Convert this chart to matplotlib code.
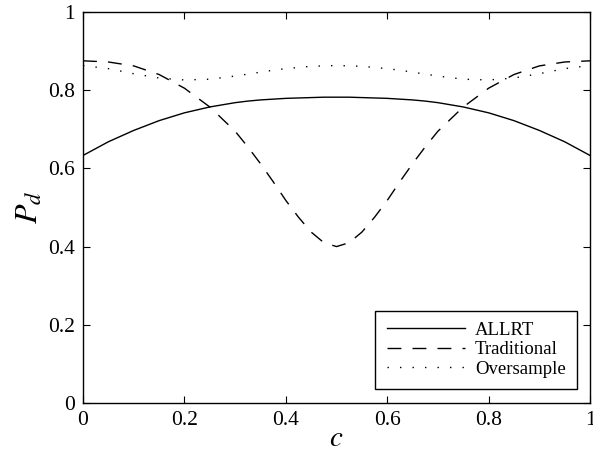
import numpy as np
import matplotlib
matplotlib.use('Agg')
import matplotlib.pyplot as plt

plt.rcParams['font.family'] = ['Liberation Serif', 'DejaVu Serif']
plt.rcParams['mathtext.fontset'] = 'stix'

# 数据（从图中读取，关于 c=0.5 对称）
c = [0.0, 0.05, 0.1, 0.15, 0.2, 0.25, 0.3, 0.325, 0.35, 0.375, 0.4, 0.425, 0.45, 0.475, 0.5,
     0.525, 0.55, 0.575, 0.6, 0.625, 0.65, 0.675, 0.7, 0.75, 0.8, 0.85, 0.9, 0.95, 1.0]
allrt = [0.633, 0.668, 0.697, 0.722, 0.742, 0.757, 0.768, 0.772, 0.775, 0.777, 0.779, 0.780, 0.781, 0.782, 0.782,
         0.782, 0.781, 0.780, 0.779, 0.777, 0.775, 0.772, 0.768, 0.757, 0.742, 0.722, 0.697, 0.668, 0.633]
traditional = [0.875, 0.872, 0.862, 0.840, 0.805, 0.757, 0.695, 0.655, 0.612, 0.566, 0.518, 0.475, 0.437, 0.410, 0.400,
               0.410, 0.437, 0.475, 0.518, 0.566, 0.612, 0.655, 0.695, 0.757, 0.805, 0.840, 0.862, 0.872, 0.875]
oversample = [0.863, 0.855, 0.842, 0.831, 0.826, 0.828, 0.836, 0.841, 0.846, 0.851, 0.855, 0.858, 0.861, 0.862, 0.863,
              0.862, 0.861, 0.858, 0.855, 0.851, 0.846, 0.841, 0.836, 0.828, 0.826, 0.831, 0.842, 0.855, 0.863]
labels = ['ALLRT', 'Traditional', 'Oversample']

fig = plt.figure(figsize=(5.93, 4.59), dpi=100)
ax = fig.add_axes([0.140, 0.122, 0.855, 0.852])

ax.plot(c, allrt, color='k', lw=1.0, ls='-', label=labels[0])
ax.plot(c, traditional, color='k', lw=1.0, ls=(0, (10, 8)), label=labels[1])
ax.plot(c, oversample, color='k', lw=1.0, ls=(0, (1, 8)), label=labels[2])

ax.set_xlim(0, 1)
ax.set_ylim(0, 1)
ax.set_xticks([0, 0.2, 0.4, 0.6, 0.8, 1])
ax.set_xticklabels(['0', '0.2', '0.4', '0.6', '0.8', '1'])
ax.set_yticks([0, 0.2, 0.4, 0.6, 0.8, 1])
ax.set_yticklabels(['0', '0.2', '0.4', '0.6', '0.8', '1'])
ax.tick_params(axis='both', direction='in', which='both', labelsize=15.5,
               top=True, right=True, length=5, width=0.8, pad=6)
for s in ax.spines.values():
    s.set_linewidth(1.0)

ax.set_xlabel(r'$c$', fontsize=21, labelpad=-3)
ax.set_ylabel(r'$P_d$', fontsize=23, labelpad=2)

leg = ax.legend(loc='lower right', bbox_to_anchor=(0.974, 0.036), borderaxespad=0,
                fontsize=13.5, fancybox=False, edgecolor='k', framealpha=1,
                handlelength=4.2, handletextpad=0.5, labelspacing=0.12,
                borderpad=0.6, markerfirst=True)
leg.get_frame().set_linewidth(1.0)

fig.savefig('out.png', dpi=100)
